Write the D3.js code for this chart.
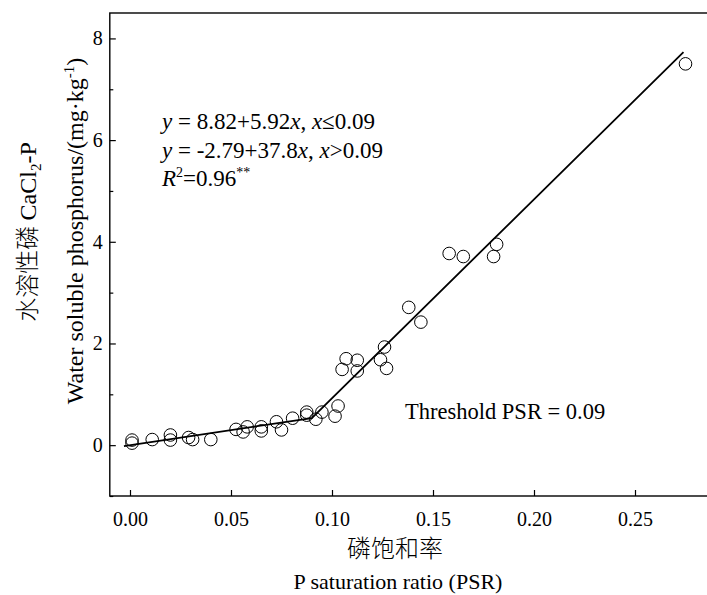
<!DOCTYPE html>
<html>
<head>
<meta charset="utf-8">
<script src="https://cdn.jsdelivr.net/npm/d3@7"></script>
<style>
  body { margin: 0; background: #fff; }
  text { font-family: "Liberation Serif", "Times New Roman", serif; fill: #000; }
  .cjk { font-family: "Noto Sans CJK SC", sans-serif; font-weight: 300; }
</style>
</head>
<body>
<svg id="chart" width="707" height="595"></svg>
<script>
// P saturation ratio (x) and water soluble P (y)
var psr = [0.001, 0.001, 0.011, 0.020, 0.020, 0.029, 0.031, 0.040, 0.0525, 0.056, 0.058,
  0.065, 0.065, 0.0725, 0.075, 0.0805, 0.0875, 0.0875, 0.092, 0.095, 0.103, 0.1015,
  0.107, 0.1125, 0.105, 0.1125, 0.126, 0.124, 0.127, 0.138, 0.144,
  0.158, 0.165, 0.1815, 0.180, 0.275]
var wsp = [0.10, 0.04, 0.11, 0.20, 0.10, 0.15, 0.11, 0.11, 0.31, 0.26, 0.36,
  0.36, 0.28, 0.46, 0.30, 0.53, 0.65, 0.59, 0.51, 0.65, 0.77, 0.57,
  1.70, 1.67, 1.49, 1.46, 1.93, 1.68, 1.51, 2.71, 2.42,
  3.77, 3.71, 3.95, 3.71, 7.50]

// segmented fit, break points
var fitX = [-0.003, 0.09, 0.274]
var fitY = [-0.02, 0.533, 7.73]

var xTicks = [0, 0.05, 0.10, 0.15, 0.20, 0.25]
var yTicks = [0, 2, 4, 6, 8]
var yMinor = [-1, 1, 3, 5, 7]

;(function () {
  var svg = d3.select('#chart')
  var plotLeft = 109.8
  var plotTop = 13
  var plotBottom = 496

  var x = d3.scaleLinear().domain([-0.01, 0.30]).range([plotLeft, plotLeft + 0.31 * 2020])
  var y = d3.scaleLinear().domain([-1, 8.5]).range([plotBottom, plotTop])

  // frame
  svg.append('rect')
    .attr('x', plotLeft).attr('y', plotTop)
    .attr('width', x(0.30) - plotLeft).attr('height', plotBottom - plotTop)
    .attr('fill', 'none').attr('stroke', '#000').attr('stroke-width', 1.4)

  svg.append('g')
    .attr('transform', 'translate(0,' + plotBottom + ')')
    .call(d3.axisBottom(x).tickValues(xTicks).tickFormat(d3.format('.2f'))
      .tickSizeInner(-6).tickSizeOuter(0).tickPadding(16))
  svg.append('g')
    .attr('transform', 'translate(' + plotLeft + ',0)')
    .call(d3.axisLeft(y).tickValues(yTicks).tickFormat(d3.format('d'))
      .tickSizeInner(-6).tickSizeOuter(0).tickPadding(7))
  svg.append('g')
    .attr('transform', 'translate(' + plotLeft + ',0)')
    .call(d3.axisLeft(y).tickValues(yMinor).tickFormat('')
      .tickSizeInner(-3.5).tickSizeOuter(0))

  svg.selectAll('.domain').remove()
  svg.selectAll('.tick line').attr('stroke', '#000').attr('stroke-width', 1.2)
  svg.selectAll('.tick text')
    .style('font-family', '"Liberation Serif", "Times New Roman", serif')
    .style('font-size', '20px').attr('fill', '#000')

  // fitted line
  var fit = fitX.map(function (d, i) { return [d, fitY[i]] })
  svg.append('path')
    .datum(fit)
    .attr('d', d3.line().x(function (d) { return x(d[0]) }).y(function (d) { return y(d[1]) }))
    .attr('fill', 'none').attr('stroke', '#000').attr('stroke-width', 1.8)

  // observations
  svg.append('g').selectAll('circle')
    .data(psr)
    .enter().append('circle')
    .attr('cx', function (d) { return x(d) })
    .attr('cy', function (d, i) { return y(wsp[i]) })
    .attr('r', 6.3)
    .attr('fill', 'none').attr('stroke', '#000').attr('stroke-width', 1)

  // equations
  var eq = svg.append('g').style('font-size', '23px')
  var l1 = eq.append('text').attr('x', 162).attr('y', 129)
  l1.append('tspan').style('font-style', 'italic').text('y')
  l1.append('tspan').text(' = 8.82+5.92')
  l1.append('tspan').style('font-style', 'italic').text('x')
  l1.append('tspan').text(', ')
  l1.append('tspan').style('font-style', 'italic').text('x')
  l1.append('tspan').text('\u22640.09')

  var l2 = eq.append('text').attr('x', 162).attr('y', 157.5)
  l2.append('tspan').style('font-style', 'italic').text('y')
  l2.append('tspan').text(' = -2.79+37.8')
  l2.append('tspan').style('font-style', 'italic').text('x')
  l2.append('tspan').text(', ')
  l2.append('tspan').style('font-style', 'italic').text('x')
  l2.append('tspan').text('>0.09')

  var l3 = eq.append('text').attr('x', 162).attr('y', 186)
  l3.append('tspan').style('font-style', 'italic').text('R')
  l3.append('tspan').attr('dy', -9).style('font-size', '14px').text('2')
  l3.append('tspan').attr('dy', 9).text('=0.96')
  l3.append('tspan').attr('dy', -9).style('font-size', '14px').text('**')

  svg.append('text')
    .attr('x', 405).attr('y', 419)
    .style('font-size', '22.5px')
    .text('Threshold PSR = 0.09')

  // x axis titles
  svg.append('text')
    .attr('class', 'cjk')
    .attr('x', 395).attr('y', 557)
    .attr('text-anchor', 'middle')
    .style('font-size', '24px')
    .text('磷饱和率')
  svg.append('text')
    .attr('x', 398).attr('y', 589)
    .attr('text-anchor', 'middle')
    .style('font-size', '22px')
    .text('P saturation ratio (PSR)')

  // y axis titles
  var yt1 = svg.append('text')
    .attr('transform', 'translate(36,232) rotate(-90)')
    .attr('text-anchor', 'middle')
    .style('font-size', '24px')
  yt1.append('tspan').attr('class', 'cjk').text('水溶性磷 ')
  yt1.append('tspan').text('CaCl')
  yt1.append('tspan').attr('dy', 5).style('font-size', '15px').text('2')
  yt1.append('tspan').attr('dy', -5).text('-P')

  var yt2 = svg.append('text')
    .attr('transform', 'translate(83,231) rotate(-90)')
    .attr('text-anchor', 'middle')
    .style('font-size', '24px')
  yt2.append('tspan').text('Water soluble phosphorus/(mg\u00b7kg')
  yt2.append('tspan').attr('dy', -9).style('font-size', '15px').text('-1')
  yt2.append('tspan').attr('dy', 9).text(')')
})()
</script>
</body>
</html>
